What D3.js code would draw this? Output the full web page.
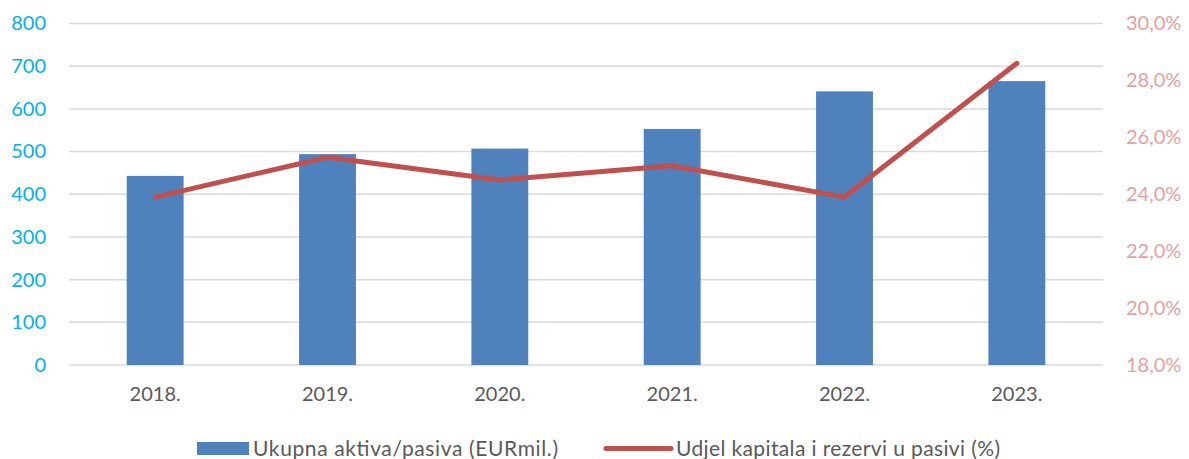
<!DOCTYPE html>
<html>
<head>
<meta charset="utf-8">
<script src="https://cdn.jsdelivr.net/npm/d3@7"></script>
<style>
  body { margin: 0; background: #fff; }
  svg text { font-family: Lato, "Open Sans", sans-serif; }
</style>
</head>
<body>
<svg id="drawing_region"></svg>
<script>
const years = ['2018.', '2019.', '2020.', '2021.', '2022.', '2023.'];
const assets = [443, 494, 507, 553, 641, 665];
const equityShare = [23.9, 25.3, 24.5, 25.0, 23.9, 28.6];
const leftTicks = [0, 100, 200, 300, 400, 500, 600, 700, 800];
const rightTicks = [18, 20, 22, 24, 26, 28, 30];

const width = 1189, height = 459;
const margin = { top: 23.5, right: 86, bottom: 94, left: 69 };
const innerW = width - margin.left - margin.right;
const innerH = height - margin.top - margin.bottom;

const svg = d3.select('#drawing_region')
    .attr('width', width)
    .attr('height', height);

const chart = svg.append('g')
    .attr('transform', `translate(${margin.left}, ${margin.top})`);

const xscale = d3.scaleBand().domain(years).range([0, innerW]);
const yleft = d3.scaleLinear().domain([0, 800]).range([innerH, 0]);
const yright = d3.scaleLinear().domain([18, 30]).range([innerH, 0]);

// gridlines
chart.append('g')
    .selectAll('line')
    .data(leftTicks)
    .join('line')
    .attr('x1', 0)
    .attr('x2', innerW)
    .attr('y1', d => yleft(d))
    .attr('y2', d => yleft(d))
    .attr('stroke', '#d9d9d9')
    .attr('stroke-width', 1.5);

// left axis
const yaxisL = chart.append('g')
    .call(d3.axisLeft(yleft).tickValues(leftTicks).tickSize(0).tickPadding(23));
yaxisL.select('.domain').remove();
yaxisL.selectAll('text')
    .attr('fill', '#00b0f0')
    .attr('font-size', 20);

// right axis
const yaxisR = chart.append('g')
    .attr('transform', `translate(${innerW}, 0)`)
    .call(d3.axisRight(yright).tickValues(rightTicks).tickSize(0).tickPadding(23)
        .tickFormat(d => d.toFixed(1).replace('.', ',') + '%'));
yaxisR.select('.domain').remove();
yaxisR.selectAll('text')
    .attr('fill', '#e6a0a0')
    .attr('font-size', 20);

// x axis
const xaxis = chart.append('g')
    .attr('transform', `translate(0, ${innerH})`)
    .call(d3.axisBottom(xscale).tickSize(0).tickPadding(22));
xaxis.select('.domain').remove();
xaxis.selectAll('text')
    .attr('fill', '#595959')
    .attr('font-size', 20);

// bars
const barW = xscale.bandwidth() * 0.33;
chart.selectAll('rect.bar')
    .data(assets)
    .join('rect')
    .attr('class', 'bar')
    .attr('x', (d, i) => xscale(years[i]) + xscale.bandwidth() / 2 - barW / 2)
    .attr('width', barW)
    .attr('y', d => yleft(d))
    .attr('height', d => innerH - yleft(d))
    .attr('fill', '#4f81bd');

// line
const line = d3.line()
    .x((d, i) => xscale(years[i]) + xscale.bandwidth() / 2)
    .y(d => yright(d));

chart.append('path')
    .datum(equityShare)
    .attr('d', line)
    .attr('fill', 'none')
    .attr('stroke', '#c0504d')
    .attr('stroke-width', 5)
    .attr('stroke-linejoin', 'round')
    .attr('stroke-linecap', 'round');

// legend
const legend = svg.append('g').attr('transform', 'translate(0, 448.5)');
legend.append('rect')
    .attr('x', 197).attr('y', -6.5)
    .attr('width', 52).attr('height', 13)
    .attr('fill', '#4f81bd');
legend.append('text')
    .attr('x', 253).attr('y', 7)
    .attr('font-size', 21).attr('fill', '#595959')
    .attr('textLength', 305).attr('lengthAdjust', 'spacing')
    .text('Ukupna aktiva/pasiva (EURmil.)');
legend.append('line')
    .attr('x1', 606).attr('x2', 671)
    .attr('y1', 0).attr('y2', 0)
    .attr('stroke', '#c0504d')
    .attr('stroke-width', 5)
    .attr('stroke-linecap', 'round');
legend.append('text')
    .attr('x', 676).attr('y', 7)
    .attr('font-size', 21).attr('fill', '#595959')
    .attr('textLength', 324).attr('lengthAdjust', 'spacing')
    .text('Udjel kapitala i rezervi u pasivi (%)');
</script>
</body>
</html>
